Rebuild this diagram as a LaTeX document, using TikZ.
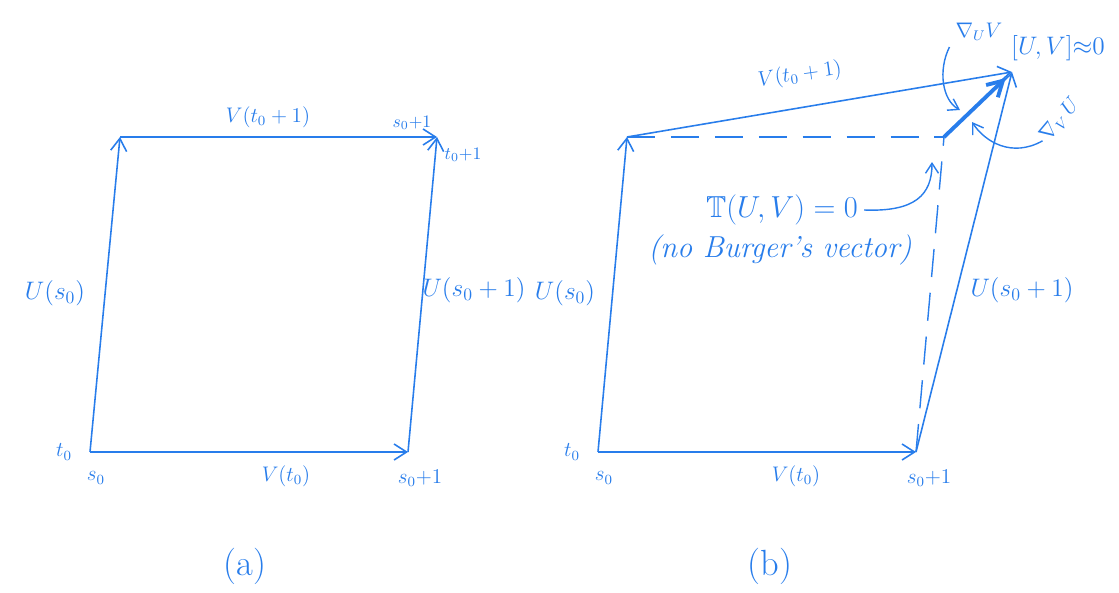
\documentclass[tikz,border=0pt]{standalone}
\usepackage{amsmath,amssymb}
\usetikzlibrary{arrows.meta}
\definecolor{ink}{RGB}{40,125,235}

\begin{document}
\begin{tikzpicture}[
		x=0.02cm, y=-0.02cm,
		every node/.style={text=ink, font=\large},
		edge/.style={ink, line width=0.9pt, -{Straight Barb[length=2.5mm,width=3.2mm]}},
		thickedge/.style={ink, line width=2.2pt, -{Straight Barb[length=3mm,width=3.4mm]}},
		ghost/.style={ink, line width=0.8pt, dash pattern=on 16pt off 9pt},
		bendarrow/.style={ink, line width=0.8pt, -{Straight Barb[length=2mm,width=2.6mm]}}
		]
		\useasboundingbox (0,0) rectangle (1119,592);
		
		% (a)
		\coordinate (a00) at (90,452);
		\coordinate (a10) at (408,452);
		\coordinate (a01) at (120,137);
		\coordinate (a11) at (437,137);
		
		\draw [edge] (a00) -- (a10);
		\draw [edge] (a00) -- (a01);
		\draw [edge] (a01) -- (a11);
		\draw [edge] (a10) -- (a11);
		
		\node (ta0) at (64,452) {$t_0$};
		\node (sa0) at (96,478) {$s_0$};
		\node (sa1) at (420,478) {$s_0{+}1$};
		\node (sa1top) at (412,123) {\normalsize$s_0{+}1$};
		\node (ta1) at (463,155) {\normalsize$t_0{+}1$};
		\node (Va0) at (286,476) {$V(t_0)$};
		\node (Va1) at (268,117) {$V(t_0+1)$};
		\node (Ua0) at (55,293) {\Large$U(s_0)$};
		\node (Ua1) at (474,290) {\Large$U(s_0+1)$};
		\node (capa) at (245,566) {\huge(a)};
		
		% (b)
		\coordinate (b00) at (598,452);
		\coordinate (b10) at (916,452);
		\coordinate (b01) at (627,137);
		\coordinate (b11) at (944,137);
		\coordinate (tip) at (1012,72);
		
		\draw [ghost] (b01) -- (b11);
		\draw [ghost] (b10) -- (b11);
		\draw [edge] (b00) -- (b10);
		\draw [edge] (b00) -- (b01);
		\draw [edge] (b01) -- (tip);
		\draw [edge] (b10) -- (tip);
		\draw [thickedge, shorten >=5pt] (b11) -- (tip);
		
		\node (tb0) at (572,452) {$t_0$};
		\node (sb0) at (604,478) {$s_0$};
		\node (sb1) at (929,478) {$s_0{+}1$};
		\node (Vb0) at (796,476) {$V(t_0)$};
		\node (Vb1) at (800,75) [rotate=8] {$V(t_0+1)$};
		\node (Ub0) at (565,293) {\Large$U(s_0)$};
		\node (Ub1) at (1022,290) {\Large$U(s_0+1)$};
		\node (bracket) at (1058,48) {\Large$[U,V]{\approx}0$};
		\node (nabUV) at (979,32) {$\nabla_{U}V$};
		\node (nabVU) at (1060,120) [rotate=50, inner sep=1pt] {$\nabla_{V}\,U$};
		\node (torsion) at (782,210) {\LARGE$\mathbb{T}(U,V)=0$};
		\node (burger) at (780,250) {\LARGE\textit{(no Burger's vector)}};
		\node (capb) at (770,566) {\huge(b)};
		
		\coordinate (hitUV) at (960,110);
		\coordinate (hitVU) at (972,122);
		\coordinate (hitT) at (932,162);
		\draw [bendarrow] (nabUV.south west) .. controls (938,70) and (942,100) .. (hitUV);
		\draw [bendarrow] (nabVU.west) .. controls (1012,158) and (985,142) .. (hitVU);
		\draw [bendarrow] (torsion.east) .. controls (915,212) and (932,195) .. (hitT);
	\end{tikzpicture}
\end{document}
